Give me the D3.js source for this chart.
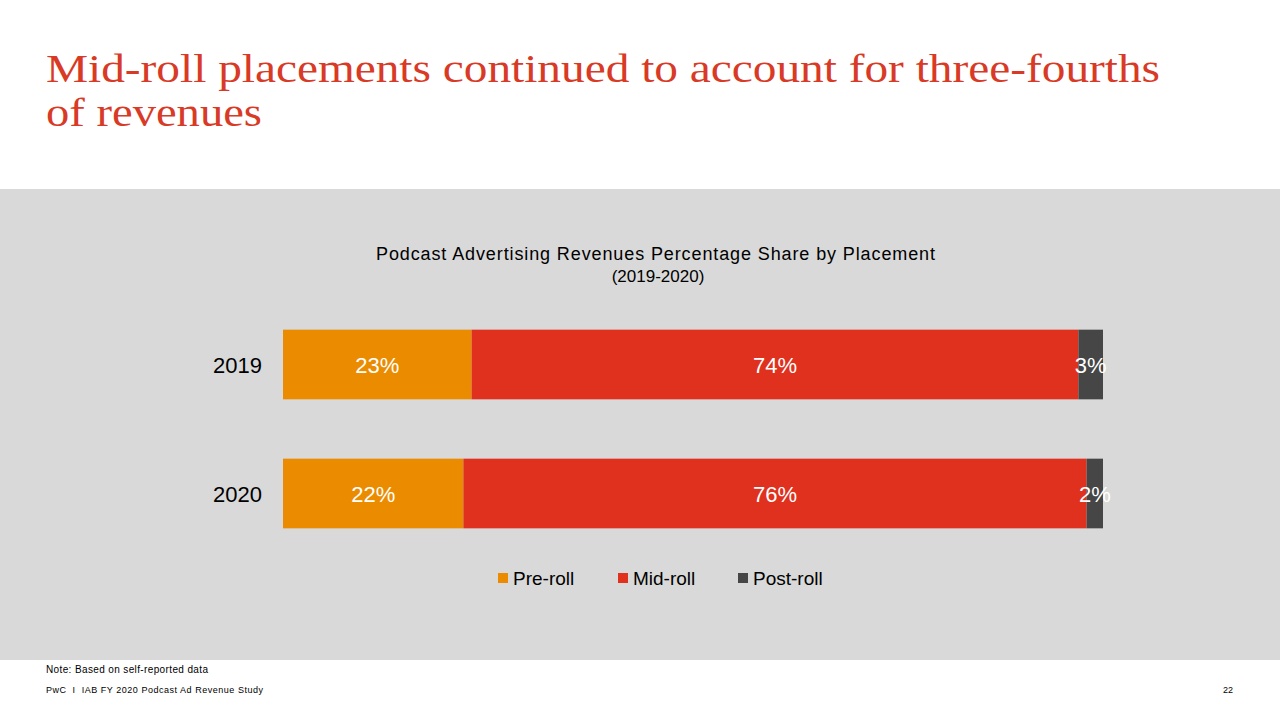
<!DOCTYPE html>
<html><head><meta charset="utf-8">
<script src="https://cdn.jsdelivr.net/npm/d3@7"></script>
<style>body{margin:0;background:#fff}svg{display:block}</style>
</head><body>
<svg id="c" width="1280" height="720"></svg>
<script>
const years = ["2019","2020"];
const series = ["Pre-roll","Mid-roll","Post-roll"];
const preRoll = [23,22];
const midRoll = [74,76];
const postRoll = [3,2];
const colors = ["#EB8C00","#E0301E","#464646"];

const svg = d3.select("#c");
const sf="'Liberation Serif','Times New Roman',serif";
svg.append("text").attr("x",46).attr("y",82).attr("font-family",sf)
  .attr("font-size",41).attr("fill","#D93A26").attr("textLength",1114).attr("lengthAdjust","spacingAndGlyphs")
  .text("Mid-roll placements continued to account for three-fourths");
svg.append("text").attr("x",46).attr("y",126).attr("font-family",sf)
  .attr("font-size",41).attr("fill","#D93A26").attr("textLength",216).attr("lengthAdjust","spacingAndGlyphs").text("of revenues");
svg.append("rect").attr("x",0).attr("y",189).attr("width",1280).attr("height",471).attr("fill","#D9D9D9");
const f="Liberation Sans, Arial, sans-serif";
svg.append("text").attr("x",376).attr("y",260).attr("font-family",f).attr("font-size",18).attr("textLength",559).text("Podcast Advertising Revenues Percentage Share by Placement");
svg.append("text").attr("x",658).attr("y",282).attr("text-anchor","middle").attr("font-family",f).attr("font-size",17).text("(2019-2020)");

const x = d3.scaleLinear().domain([0,100]).range([283,1103]);
const y = d3.scaleBand().domain(years).range([300,558]).paddingInner(0.46).paddingOuter(0.23);
const data = years.map((yr,i)=>({year:yr,"Pre-roll":preRoll[i],"Mid-roll":midRoll[i],"Post-roll":postRoll[i]}));
const stack = d3.stack().keys(series)(data);
stack.forEach((s,si)=>{
  s.forEach((d,i)=>{
    svg.append("rect").attr("x",x(d[0])).attr("y",y(years[i])).attr("width",x(d[1])-x(d[0]))
      .attr("height",y.bandwidth()).attr("fill",colors[si]);
    svg.append("text").attr("x",(x(d[0])+x(d[1]))/2).attr("y",y(years[i])+y.bandwidth()/2+8)
      .attr("text-anchor","middle").attr("font-family",f).attr("font-size",22).attr("fill","#fff")
      .text((d[1]-d[0])+"%");
  });
});
years.forEach(yr=>svg.append("text").attr("x",262).attr("y",y(yr)+y.bandwidth()/2+8).attr("text-anchor","end")
  .attr("font-family",f).attr("font-size",22).text(yr));
const lx=[498,618,738];
series.forEach((s,i)=>{
  svg.append("rect").attr("x",lx[i]).attr("y",573).attr("width",10).attr("height",10).attr("fill",colors[i]);
  svg.append("text").attr("x",lx[i]+15).attr("y",585).attr("font-family",f).attr("font-size",19).text(s);
});
svg.append("text").attr("x",46).attr("y",673).attr("font-family",f).attr("font-size",10).attr("textLength",162).text("Note: Based on self-reported data");
svg.append("text").attr("x",46).attr("y",693).attr("font-family",f).attr("font-size",9).attr("textLength",217).attr("xml:space","preserve").text("PwC  I  IAB FY 2020 Podcast Ad Revenue Study");
svg.append("text").attr("x",1233).attr("y",693).attr("text-anchor","end").attr("font-family",f).attr("font-size",9).text("22");
</script></body></html>
